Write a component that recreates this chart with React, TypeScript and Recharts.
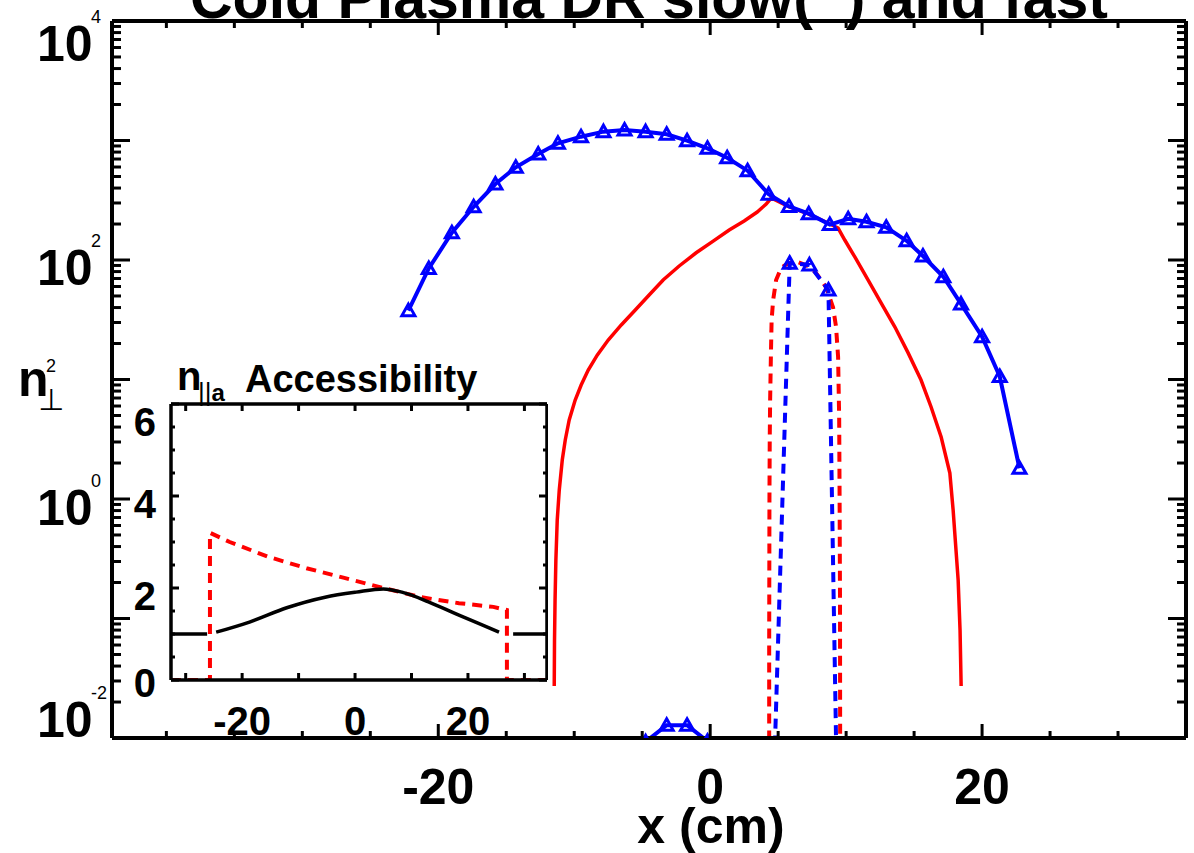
import { LineChart, Line, XAxis, YAxis } from "recharts";

// fast root, solid blue with triangles
const fastX = [-22.2, -20.7, -19.0, -17.4, -15.8, -14.3, -12.65, -11.2, -9.5, -7.85, -6.3, -4.75, -3.2, -1.7, -0.2, 1.25, 2.75, 4.3, 5.8, 7.25, 8.8, 10.15, 11.5, 12.95, 14.45, 15.65, 17.15, 18.45, 20.0, 21.3, 22.75];
const fastN2 = [37.7, 85, 169, 279, 432, 597, 771, 948, 1076, 1186, 1224, 1186, 1127, 996, 860, 718, 559, 355, 281, 244, 198, 221, 209, 188, 145, 108, 72.4, 42.9, 22.8, 10.6, 1.81];
// bit of the fast root poking up at the bottom edge
const fastLowX = [-4.75, -3.2, -1.7, -0.2];
const fastLowN2 = [0.0093, 0.0128, 0.0128, 0.0094];
// slow root, dashed blue
const slowX = [4.3, 5.85, 7.3, 8.7, 10.15];
const slowN2 = [0.00017, 94, 91, 56, 1e-8];
// red solid
const redX = [-11.47, -11.45, -11.41, -11.35, -11.25, -11.1, -10.88, -10.66, -10.37, -9.93, -9.49, -8.97, -8.31, -7.5, -6.54, -5.51, -4.49, -3.46, -2.28, -1.03, 0.22, 1.4, 2.5, 3.46, 4.12, 4.49, 5.74, 7.21, 8.82, 9.41, 9.9, 10.64, 11.62, 12.57, 13.58, 14.56, 15.51, 16.25, 16.99, 17.63, 17.87, 18.24, 18.38, 18.46];
const redN2 = [0.0272, 0.0661, 0.143, 0.309, 0.667, 1.19, 2.12, 3.12, 4.58, 6.74, 8.99, 12.0, 16.0, 21.4, 28.6, 38.2, 50.9, 68.1, 89.1, 115, 144, 178, 212, 252, 294, 330, 281, 243, 200, 185, 147, 106, 68, 43.7, 27.6, 16.7, 9.9, 5.89, 3.3, 1.65, 0.81, 0.21, 0.08, 0.0272];
// red dashed
const redDashX = [4.34, 4.34, 4.36, 4.38, 4.41, 4.47, 4.52, 4.63, 4.85, 5.22, 5.74, 6.47, 7.2, 7.72, 8.16, 8.53, 9.04, 9.26, 9.41, 9.49, 9.52, 9.55, 9.56, 9.56];
const redDashN2 = [0.0005, 0.055, 1.0, 3.0, 6.7, 16.7, 31.6, 46, 68, 86, 94, 96, 89, 79.5, 68, 59, 40, 27.5, 15.4, 4.6, 1.0, 0.14, 0.01, 0.0005];

// inset: accessibility
const accX = [-32.6, -26.2, -25.5, -24.6, -18.7, -12.1, -5.3, 0.2, 5.0, 8.3, 13.0, 18.4, 22.5, 25.5, 26.8, 28.0, 34.0];
const accN = [1, 1, null, 1.04, 1.26, 1.57, 1.8, 1.91, 1.98, 1.91, 1.7, 1.41, 1.2, 1.04, null, 1, 1];
const accRedX = [-32.6, -25.7, -25.7, -22.2, -15.4, -8.6, -1.9, 5.0, 11.7, 18.4, 24.5, 26.9, 26.9, 34.0];
const accRedN = [0, 0, 3.2, 3.0, 2.68, 2.43, 2.22, 2.0, 1.8, 1.67, 1.59, 1.52, 0, 0];

const xTicks = [-40, -35, -30, -25, -20, -15, -10, -5, 0, 5, 10, 15, 20, 25, 30];
const xLabels = [-20, 0, 20];
const yTicks: number[] = [];
for (let e = -2; e < 4; e++) for (let m = 1; m < 10; m++) yTicks.push(m * Math.pow(10, e));
yTicks.push(10000);
const yLabelShift: Record<number, number> = { 4: 40, 2: 25, 0: 26, [-2]: -1 };

const insetXTicks = [-30, -20, -10, 0, 10, 20, 30];
const insetXLabels = [-20, 0, 20];
const insetYTicks = [0, 0.5, 1, 1.5, 2, 2.5, 3, 3.5, 4, 4.5, 5, 5.5, 6];
const insetYLabels = [0, 2, 4, 6];
const insetYShift: Record<number, number> = { 0: 17, 2: 22, 4: 22, 6: 32 };

const pts = (xs: number[], ys: (number | null)[]) => xs.map((x, i) => ({ x, y: ys[i] }));

const FONT = "'Liberation Sans', Arial, sans-serif";
const BLUE = "#0000ff";
const RED = "#ff0000";
const INSET_LEFT = 100;

const isDecade = (v: number) => {
  const e = Math.log10(v);
  return Math.abs(e - Math.round(e)) < 1e-6;
};

const Tri = (p: any) => {
  const { cx, cy, index } = p;
  if (cx == null || cy == null) return <g key={index} />;
  return (
    <path
      key={index}
      d={`M${cx},${cy - 6.5}L${cx + 6.5},${cy + 5}L${cx - 6.5},${cy + 5}Z`}
      fill="none"
      stroke={BLUE}
      strokeWidth={3}
    />
  );
};

const LeftTick = (p: any) => {
  const v = p.payload.value;
  const dec = isDecade(v);
  const e = Math.round(Math.log10(v));
  const len = dec ? 18 : 9;
  const lab = dec && e % 2 === 0;
  const base = p.y + (yLabelShift[e] ?? 20);
  return (
    <g>
      <line x1={p.x} y1={p.y} x2={p.x + len} y2={p.y} stroke="#000" strokeWidth={3} />
      {lab && (
        <text x={37} y={base} fontFamily={FONT} fontWeight="bold" fontSize={50} fill="#000">
          10
        </text>
      )}
      {lab && (
        <text x={91} y={base - 38} fontFamily={FONT} fontSize={18} fill="#000">
          {e}
        </text>
      )}
    </g>
  );
};

const RightTick = (p: any) => {
  const len = isDecade(p.payload.value) ? 18 : 9;
  return <line x1={p.x} y1={p.y} x2={p.x - len} y2={p.y} stroke="#000" strokeWidth={3} />;
};

const BottomTick = (p: any) => {
  const v = p.payload.value;
  const major = xLabels.includes(v);
  const len = major ? 14 : 7;
  return (
    <g>
      <line x1={p.x} y1={p.y} x2={p.x} y2={p.y - len} stroke="#000" strokeWidth={3} />
      {major && (
        <text x={p.x} y={804} textAnchor="middle" fontFamily={FONT} fontWeight="bold" fontSize={50} fill="#000">
          {v}
        </text>
      )}
    </g>
  );
};

const TopTick = (p: any) => {
  const len = xLabels.includes(p.payload.value) ? 14 : 7;
  return <line x1={p.x} y1={p.y} x2={p.x} y2={p.y + len} stroke="#000" strokeWidth={3} />;
};

const InsetLeftTick = (p: any) => {
  const v = p.payload.value;
  const major = insetYLabels.includes(v);
  return (
    <g>
      <line x1={p.x} y1={p.y} x2={p.x + (major ? 8 : 4)} y2={p.y} stroke="#000" strokeWidth={3} />
      {major && (
        <text x={156 - INSET_LEFT} y={p.y + insetYShift[v]} textAnchor="end" fontFamily={FONT} fontWeight="bold" fontSize={40} fill="#000">
          {v}
        </text>
      )}
    </g>
  );
};

const InsetRightTick = (p: any) => {
  const major = insetYLabels.includes(p.payload.value);
  return <line x1={p.x} y1={p.y} x2={p.x - (major ? 8 : 4)} y2={p.y} stroke="#000" strokeWidth={3} />;
};

const InsetBottomTick = (p: any) => {
  const v = p.payload.value;
  const major = insetXLabels.includes(v);
  return (
    <g>
      <line x1={p.x} y1={p.y} x2={p.x} y2={p.y - 7} stroke="#000" strokeWidth={3} />
      {major && (
        <text x={p.x} y={p.y + 55} textAnchor="middle" fontFamily={FONT} fontWeight="bold" fontSize={40} fill="#000">
          {v}
        </text>
      )}
    </g>
  );
};

const InsetTopTick = (p: any) => (
  <line x1={p.x} y1={p.y} x2={p.x} y2={p.y + 7} stroke="#000" strokeWidth={3} />
);

const axisLine = { stroke: "#000", strokeWidth: 4 };
const insetAxisLine = { stroke: "#000", strokeWidth: 3.5 };

export default function App() {
  return (
    <div style={{ position: "absolute", left: 0, top: 0, width: 1194, height: 853, background: "#fff", overflow: "hidden" }}>
      <LineChart width={1194} height={853} margin={{ top: 0, right: 0, bottom: 0, left: 0 }}>
        <XAxis xAxisId="b" type="number" dataKey="x" domain={[-44, 35]} allowDataOverflow ticks={xTicks} interval={0}
          height={115} tickSize={0} tickMargin={0} tickLine={false} axisLine={axisLine} tick={BottomTick} />
        <XAxis xAxisId="t" orientation="top" type="number" dataKey="x" domain={[-44, 35]} allowDataOverflow ticks={xTicks}
          interval={0} height={21} tickSize={0} tickMargin={0} tickLine={false} axisLine={axisLine} tick={TopTick} />
        <YAxis yAxisId="l" type="number" scale="log" domain={[0.01, 10000]} allowDataOverflow ticks={yTicks} interval={0}
          width={112} tickSize={0} tickMargin={0} tickLine={false} axisLine={axisLine} tick={LeftTick} />
        <YAxis yAxisId="r" orientation="right" type="number" scale="log" domain={[0.01, 10000]} allowDataOverflow ticks={yTicks}
          interval={0} width={8} tickSize={0} tickMargin={0} tickLine={false} axisLine={axisLine} tick={RightTick} />
        <Line xAxisId="b" yAxisId="l" data={pts(redX, redN2)} dataKey="y" stroke={RED} strokeWidth={3.5}
          dot={false} isAnimationActive={false} />
        <Line xAxisId="b" yAxisId="l" data={pts(redDashX, redDashN2)} dataKey="y" stroke={RED} strokeWidth={4}
          strokeDasharray="10 7" dot={false} isAnimationActive={false} />
        <Line xAxisId="b" yAxisId="l" data={pts(slowX, slowN2)} dataKey="y" stroke={BLUE} strokeWidth={4}
          strokeDasharray="10 7" dot={Tri} isAnimationActive={false} />
        <Line xAxisId="b" yAxisId="l" data={pts(fastX, fastN2)} dataKey="y" stroke={BLUE} strokeWidth={4}
          dot={Tri} isAnimationActive={false} />
        <Line xAxisId="b" yAxisId="l" data={pts(fastLowX, fastLowN2)} dataKey="y" stroke={BLUE} strokeWidth={4}
          dot={Tri} isAnimationActive={false} />
      </LineChart>

      <div style={{ position: "absolute", left: INSET_LEFT, top: 395 }}>
        <LineChart width={448} height={400} margin={{ top: 0, right: 0, bottom: 0, left: 0 }}>
          <XAxis xAxisId="b" type="number" dataKey="x" domain={[-32.6, 34]} allowDataOverflow ticks={insetXTicks} interval={0}
            height={115} tickSize={0} tickMargin={0} tickLine={false} axisLine={insetAxisLine} tick={InsetBottomTick} />
          <XAxis xAxisId="t" orientation="top" type="number" dataKey="x" domain={[-32.6, 34]} allowDataOverflow ticks={insetXTicks}
            interval={0} height={9} tickSize={0} tickMargin={0} tickLine={false} axisLine={insetAxisLine} tick={InsetTopTick} />
          <YAxis yAxisId="l" type="number" domain={[0, 6]} allowDataOverflow ticks={insetYTicks} interval={0}
            width={71} tickSize={0} tickMargin={0} tickLine={false} axisLine={insetAxisLine} tick={InsetLeftTick} />
          <YAxis yAxisId="r" orientation="right" type="number" domain={[0, 6]} allowDataOverflow ticks={insetYTicks}
            interval={0} width={1} tickSize={0} tickMargin={0} tickLine={false} axisLine={insetAxisLine} tick={InsetRightTick} />
          <Line xAxisId="b" yAxisId="l" data={pts(accRedX, accRedN)} dataKey="y" stroke={RED} strokeWidth={4}
            strokeDasharray="10 7" dot={false} isAnimationActive={false} />
          <Line xAxisId="b" yAxisId="l" type="monotone" data={pts(accX, accN)} dataKey="y" stroke="#000" strokeWidth={3.5}
            dot={false} connectNulls={false} isAnimationActive={false} />
        </LineChart>
      </div>

      <svg width={1194} height={853} style={{ position: "absolute", left: 0, top: 0, pointerEvents: "none" }}>
        <text x={649} y={18} textAnchor="middle" fontFamily={FONT} fontWeight="bold" fontSize={59} fill="#000">
          Cold Plasma DR slow(<tspan fill={BLUE} dy={-14}>–</tspan><tspan dy={14}>) and fast</tspan>
        </text>
        <text x={18} y={396} fontFamily={FONT} fontWeight="bold" fontSize={50} fill="#000">n</text>
        <text x={46} y={372} fontFamily={FONT} fontSize={18} fill="#000">2</text>
        <text x={38} y={410} fontFamily="'DejaVu Sans', sans-serif" fontSize={30} fill="#000">⊥</text>
        <text x={711} y={843} textAnchor="middle" fontFamily={FONT} fontWeight="bold" fontSize={50} fill="#000">
          x (cm)
        </text>
        <text x={177} y={390} fontFamily={FONT} fontWeight="bold" fontSize={40} fill="#000">n</text>
        <text x={198} y={401} fontFamily={FONT} fontSize={26} fill="#000">||<tspan fontWeight="bold" fontSize={24}>a</tspan></text>
        <text x={245} y={392} fontFamily={FONT} fontWeight="bold" fontSize={38} fill="#000">Accessibility</text>
      </svg>
    </div>
  );
}
